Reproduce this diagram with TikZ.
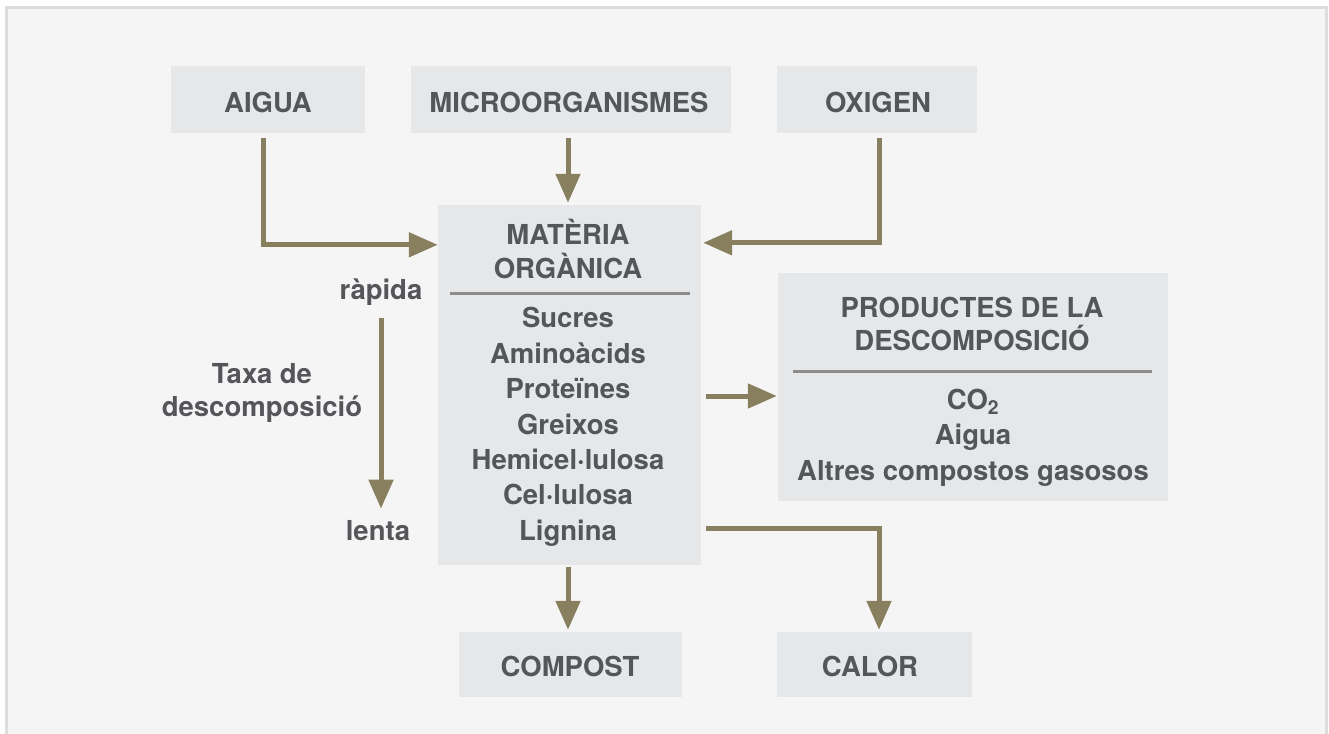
\documentclass[tikz,border=0pt]{standalone}
\usepackage{fontspec}
\setmainfont{TeX Gyre Heros}
\usetikzlibrary{arrows.meta}
\definecolor{txt}{HTML}{55565A}
\definecolor{boxc}{HTML}{E6E7E8}
\definecolor{bgc}{HTML}{F5F5F5}
\definecolor{framec}{HTML}{DDDDDD}
\definecolor{arrc}{HTML}{877F5D}
\definecolor{sepc}{HTML}{8C8C8C}
\begin{document}
\begin{tikzpicture}[x=1pt,y=-1pt,
  box/.style={fill=boxc, inner sep=0pt, text=txt, font=\bfseries\fontsize{27.5}{34}\selectfont},
  boxtext/.style={text=txt, inner sep=0pt, font=\bfseries\fontsize{27.5}{34}\selectfont},
  lbl/.style={text=txt, inner sep=0pt, align=center, font=\bfseries\fontsize{27.5}{33.5}\selectfont},
  listlbl/.style={text=txt, inner sep=0pt, align=center, font=\bfseries\fontsize{27.5}{35.4}\selectfont},
  flow/.style={draw=arrc, line width=5pt, -{Triangle[length=29pt,width=24pt]}},
  seprule/.style={draw=sepc, line width=3pt}]
\fill[white] (0,0) rectangle (1329,733);
\useasboundingbox (0,0) rectangle (1329,733);
\path[fill=bgc, draw=framec, line width=3pt] (6.5,8) rectangle (1326.5,745);

% top boxes
\node[box, minimum width=194pt, minimum height=67pt] (aigua) at (268,99.5) {};
\node[boxtext] (aiguat) at (268,102) {AIGUA};
\node[box, minimum width=320pt, minimum height=67pt] (micro) at (571,99.5) {};
\node[boxtext] (microt) at (569,102) {MICROORGANISMES};
\node[box, minimum width=200pt, minimum height=67pt] (oxigen) at (877,99.5) {};
\node[boxtext] (oxigent) at (878,102) {OXIGEN};

% central box
\node[box, minimum width=263pt, minimum height=360pt] (mo) at (569.5,385) {};
\node[lbl] (motitle) at (568,249) {MATÈRIA\\ORGÀNICA};
\draw[seprule] (450,293) -- (690,293);
\node[listlbl] (molist) at (568,427) {Sucres\\Aminoàcids\\Proteïnes\\Greixos\\Hemicel·lulosa\\Cel·lulosa\\Lignina};

% products box
\node[box, minimum width=390pt, minimum height=228pt] (prod) at (973,387) {};
\node[lbl] (prodtitle) at (972,324) {PRODUCTES DE LA\\DESCOMPOSICIÓ};
\draw[seprule] (793,371) -- (1152,371);
\node[listlbl] (prodlist) at (973,437.5) {CO\textsubscript{2}\\Aigua\\Altres compostos gasosos};

% bottom boxes
\node[box, minimum width=223pt, minimum height=65pt] (compost) at (570.5,664.5) {};
\node[boxtext] (compostt) at (570,666.5) {COMPOST};
\node[box, minimum width=195pt, minimum height=65pt] (calor) at (874.5,664.5) {};
\node[boxtext] (calort) at (870,666.5) {CALOR};

% rate labels
\node[lbl] (rapida) at (381,292.5) {ràpida};
\node[lbl] (lenta) at (378,531) {lenta};
\node[lbl] (taxa) at (262,393) {Taxa de\\descomposició};

% connectors
\draw[flow] ([xshift=-5pt,yshift=-5pt]aigua.south) |- ([yshift=-40pt]mo.north west);
\draw[flow] ([xshift=-3pt,yshift=-5pt]micro.south) -- ([xshift=-1.5pt,yshift=2pt]mo.north);
\draw[flow] ([xshift=2pt,yshift=-5pt]oxigen.south) |- ([xshift=2pt,yshift=-38pt]mo.north east);
\draw[flow] ([yshift=-12pt]rapida.south -| 381,0) -- ([yshift=12pt]lenta.north -| 381,0);
\draw[flow] ([xshift=5pt,yshift=-11pt]mo.east) -- ([xshift=-1pt]prod.west |- 0,396);
\draw[flow] ([xshift=-1.5pt,yshift=-2pt]mo.south) -- ([xshift=-2.5pt,yshift=2pt]compost.north);
\draw[flow] ([xshift=5pt,yshift=37pt]mo.south east) -| ([xshift=4.5pt,yshift=2pt]calor.north);
\end{tikzpicture}
\end{document}
